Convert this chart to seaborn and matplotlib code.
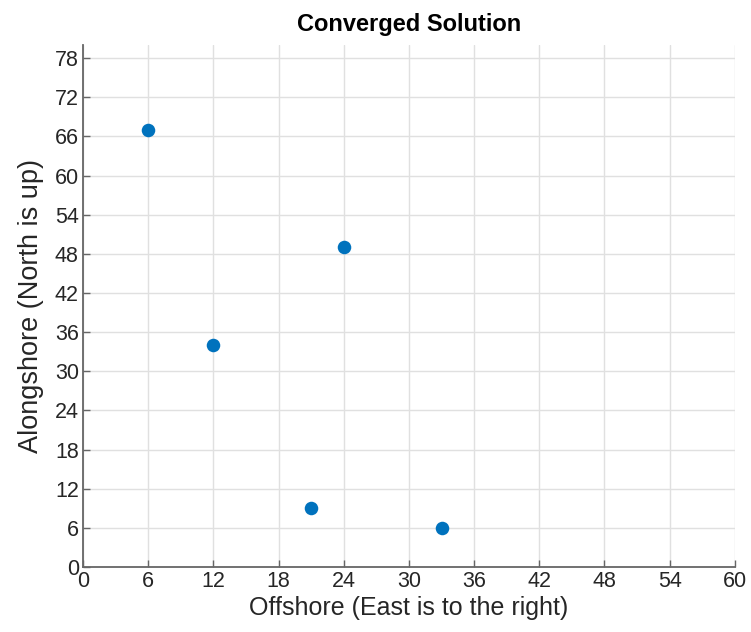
import matplotlib
matplotlib.use("Agg")
import matplotlib.pyplot as plt
import seaborn as sns
import pandas as pd

offshore = [6, 12, 21, 24, 33]
alongshore = [67, 34, 9, 49, 6]
x_ticks = [0, 6, 12, 18, 24, 30, 36, 42, 48, 54, 60]
y_ticks = [0, 6, 12, 18, 24, 30, 36, 42, 48, 54, 60, 66, 72, 78]

df = pd.DataFrame({"Offshore": offshore, "Alongshore": alongshore})

sns.set_theme(style="whitegrid")
plt.rcParams['font.family'] = ['Liberation Sans', 'DejaVu Sans']

fig = plt.figure(figsize=(7.51, 6.32), dpi=100)
ax = fig.add_axes([0.1105, 0.1028, 0.868, 0.826])

sns.scatterplot(data=df, x="Offshore", y="Alongshore", ax=ax, s=95,
                color="#0072BD", edgecolor="#0072BD", linewidth=0, zorder=3)

ax.set_xlim(0, 60)
ax.set_ylim(0, 80)
ax.set_xticks(x_ticks)
ax.set_yticks(y_ticks)
ax.grid(True, color="#e0e0e0", linewidth=1.0)
for side in ["top", "right"]:
    ax.spines[side].set_visible(False)
for side in ["left", "bottom"]:
    ax.spines[side].set_color("#666666")
    ax.spines[side].set_linewidth(1.3)
ax.tick_params(direction="in", length=5, width=1, color="#666666",
               labelsize=15.5, labelcolor="#262626", pad=3, left=True, bottom=True)
ax.set_xlabel("Offshore (East is to the right)", fontsize=18, color="#262626", labelpad=3)
ax.set_ylabel("Alongshore (North is up)", fontsize=19.5, color="#262626", labelpad=8)
ax.set_title("Converged Solution", fontsize=17, fontweight="bold", color="black", pad=10)

fig.savefig("out.png", dpi=100, facecolor="white")
